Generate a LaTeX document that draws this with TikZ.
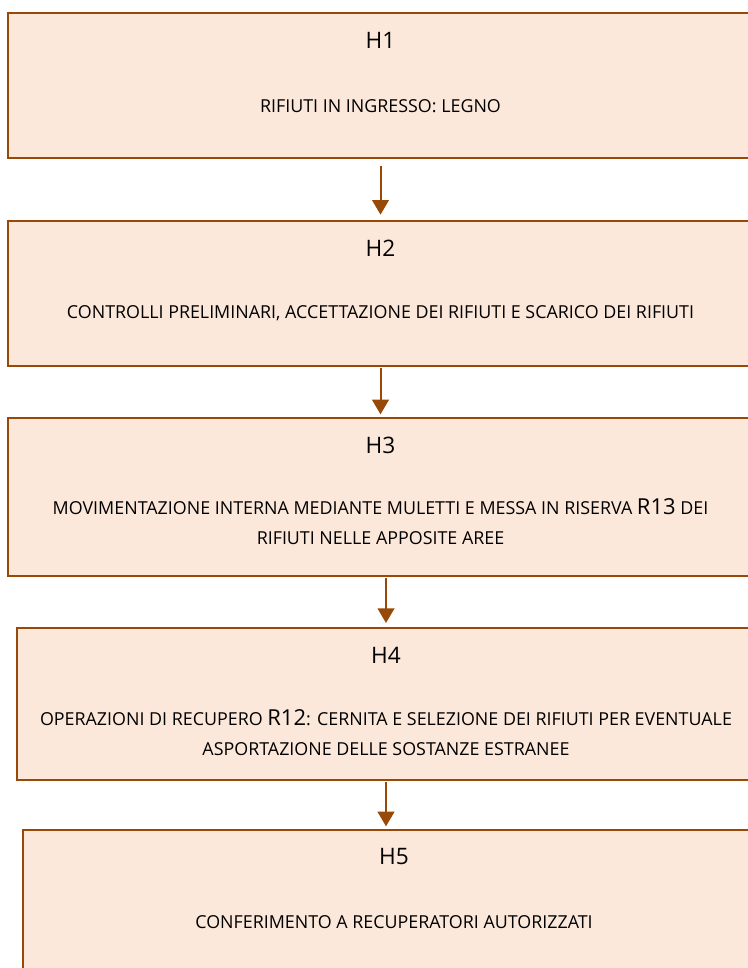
\documentclass[tikz,border=0pt]{standalone}
\usepackage{fontspec}
\setmainfont{Open Sans}
\usetikzlibrary{positioning, arrows.meta, calc}
\definecolor{stepBrown}{RGB}{152, 72, 7}
\definecolor{lightPeach}{RGB}{252, 232, 218}
\newcommand{\bigcode}[1]{{\fontsize{16.5}{22.5}\selectfont #1}}

\begin{document}
\begin{tikzpicture}[x=0.75pt, y=-0.75pt, >=Triangle, every node/.style={align=center, text=black, font=\fontsize{13.4}{22.5}\selectfont}, stepbox/.style={draw=stepBrown, line width=1.5pt, fill=lightPeach, anchor=north west, inner sep=0pt}, tag/.style={font=\fontsize{17}{20}\selectfont}, flow/.style={-{Triangle[width=12.5pt, length=11pt]}, line width=1.5pt, draw=stepBrown}]
    \useasboundingbox (0,0) rectangle (748,968);
    \clip (0,0) rectangle (748,968);

    \node[stepbox, minimum width=558.75pt, minimum height=108.75pt] (h1) at (7,12) {};
    \node[stepbox, minimum width=558.75pt, minimum height=108.75pt] (h2) at (7,220) {};
    \node[stepbox, minimum width=558.75pt, minimum height=118.5pt] (h3) at (7,417) {};
    \node[stepbox, minimum width=553.5pt, minimum height=114pt] (h4) at (16,627) {};
    \node[stepbox, minimum width=556.5pt, minimum height=127.5pt] (h5) at (22,829) {};

    \node[tag] (h1tag) at ($(h1.north)+(0,28)$) {H1};
    \node (h1text) at ($(h1.north)+(0,94)$) {RIFIUTI IN INGRESSO: LEGNO};

    \node[tag] (h2tag) at ($(h2.north)+(0,28)$) {H2};
    \node (h2text) at ($(h2.north)+(0,93)$) {CONTROLLI PRELIMINARI, ACCETTAZIONE DEI RIFIUTI E SCARICO DEI RIFIUTI};

    \node[tag] (h3tag) at ($(h3.north)+(0,28)$) {H3};
    \node (h3text) at ($(h3.north)+(0,105)$) {MOVIMENTAZIONE INTERNA MEDIANTE MULETTI E MESSA IN RISERVA \bigcode{R13} DEI\\RIFIUTI NELLE APPOSITE AREE};

    \node[tag] (h4tag) at ($(h4.north)+(0,28)$) {H4};
    \node (h4text) at ($(h4.north)+(0,106)$) {OPERAZIONI DI RECUPERO \bigcode{R12}: CERNITA E SELEZIONE DEI RIFIUTI PER EVENTUALE\\ASPORTAZIONE DELLE SOSTANZE ESTRANEE};

    \node[tag] (h5tag) at ($(h5.north)+(0,28)$) {H5};
    \node (h5text) at ($(h5.north)+(0,93)$) {CONFERIMENTO A RECUPERATORI AUTORIZZATI};

    \draw[flow, shorten <=5pt, shorten >=4pt] (h1) -- (h2);
    \draw[flow, shorten <=1pt, shorten >=2pt] (h2) -- (h3);
    \draw[flow, shorten <=1pt, shorten >=3pt] (h3.south -| h4.north) -- (h4.north);
    \draw[flow, shorten <=1pt, shorten >=2pt] (h4.south) -- (h4.south |- h5.north);
\end{tikzpicture}
\end{document}
